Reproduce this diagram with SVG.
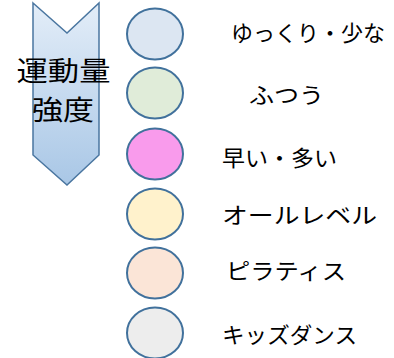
<svg xmlns="http://www.w3.org/2000/svg" width="394" height="358" viewBox="0 0 394 358">
<defs>
<linearGradient id="ag" x1="0" y1="0" x2="0" y2="1">
<stop offset="0" stop-color="#e3edf8"/>
<stop offset="1" stop-color="#a9c7e6"/>
</linearGradient>
</defs>
<style>
.ell{stroke:#41719c;stroke-width:2}
.t{font-family:"Noto Sans CJK JP","Noto Sans",sans-serif;font-size:22px;fill:#000}
.big{font-family:"Noto Sans CJK JP","Noto Sans",sans-serif;font-size:27px;fill:#000;text-anchor:middle}
</style>
<rect width="394" height="358" fill="#fff"/>
<g id="arrow">
<path d="M33,3 L67,33 L99,3 L99,155 L67,185 L33,155 Z" fill="url(#ag)" stroke="#4a76a0" stroke-width="1.5" stroke-linejoin="miter"/>
<text class="big" x="63.5" y="81" textLength="94" lengthAdjust="spacingAndGlyphs">運動量</text>
<text class="big" x="63" y="120" textLength="62" lengthAdjust="spacingAndGlyphs">強度</text>
</g>
<g id="n1"><ellipse class="ell" cx="155" cy="34" rx="28" ry="25.5" fill="#dce6f2"/><text class="t" x="231" y="41" textLength="154" lengthAdjust="spacingAndGlyphs">ゆっくり・少な</text></g>
<g id="n2"><ellipse class="ell" cx="155" cy="93" rx="28" ry="25.5" fill="#e0ecd9"/><text class="t" x="249" y="103" textLength="75" lengthAdjust="spacingAndGlyphs">ふつう</text></g>
<g id="n3"><ellipse class="ell" cx="155" cy="154" rx="28" ry="25.5" fill="#f99bec"/><text class="t" x="222" y="166" textLength="115" lengthAdjust="spacingAndGlyphs">早い・多い</text></g>
<g id="n4"><ellipse class="ell" cx="155" cy="214" rx="28" ry="25.5" fill="#fff2cc"/><text class="t" x="222" y="223" textLength="155" lengthAdjust="spacingAndGlyphs">オールレベル</text></g>
<g id="n5"><ellipse class="ell" cx="155" cy="273" rx="28" ry="25.5" fill="#fbe5d7"/><text class="t" x="226" y="279" textLength="120" lengthAdjust="spacingAndGlyphs">ピラティス</text></g>
<g id="n6"><ellipse class="ell" cx="155" cy="333" rx="28" ry="25.5" fill="#ededed"/><text class="t" x="222" y="343" textLength="135" lengthAdjust="spacingAndGlyphs">キッズダンス</text></g>
<g id="connectors"/>
</svg>
